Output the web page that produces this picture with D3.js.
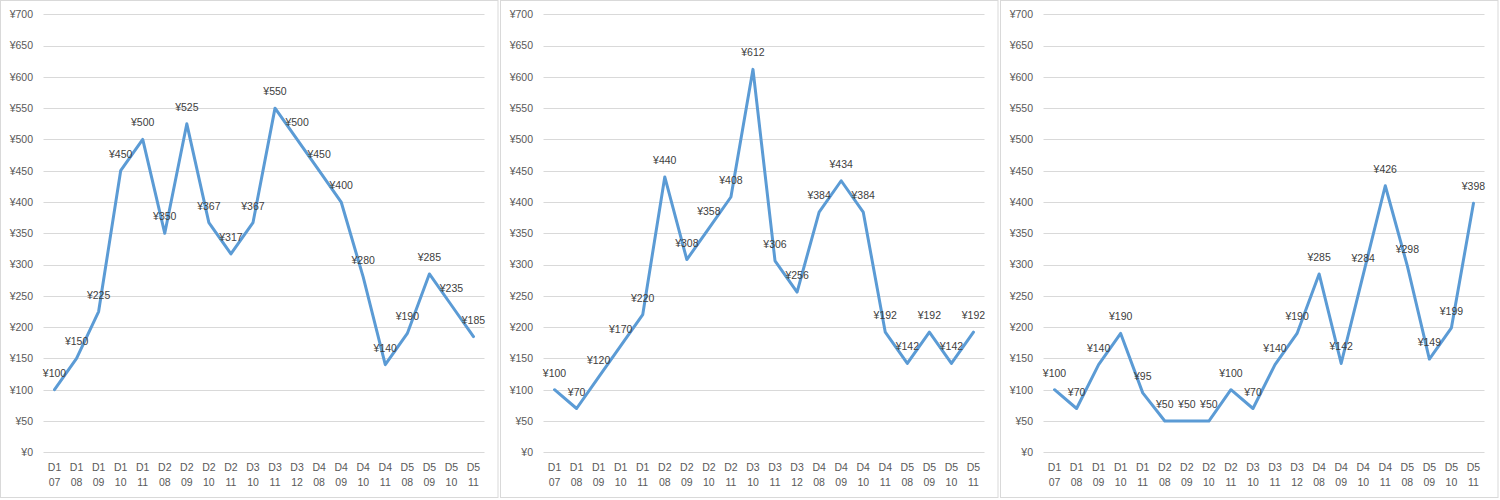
<!DOCTYPE html>
<html>
<head>
<meta charset="utf-8">
<script src="https://cdn.jsdelivr.net/npm/d3@7/dist/d3.min.js"></script>
<style>
  html, body { margin: 0; padding: 0; background: #fff; }
  svg { display: block; }
  text { font-family: "Liberation Sans", Arial, sans-serif; }
</style>
</head>
<body>
<svg id="chart" width="1500" height="500"></svg>
<script>
// ---- data ----
const categories = [
  "D1 07","D1 08","D1 09","D1 10","D1 11",
  "D2 08","D2 09","D2 10","D2 11",
  "D3 10","D3 11","D3 12",
  "D4 08","D4 09","D4 10","D4 11",
  "D5 08","D5 09","D5 10","D5 11"
];
const series1 = [100,150,225,450,500,350,525,367,317,367,550,500,450,400,280,140,190,285,235,185];
const series2 = [100,70,120,170,220,440,308,358,408,612,306,256,384,434,384,192,142,192,142,192];
const series3 = [100,70,140,190,95,50,50,50,100,70,140,190,285,142,284,426,298,149,199,398];
const yTicks = [0,50,100,150,200,250,300,350,400,450,500,550,600,650,700];

const panels = [series1, series2, series3];
const svg = d3.select("#chart");
const fmt = v => "¥" + v;

panels.forEach((values, i) => {
  const ox = i * 500;
  const g = svg.append("g").attr("transform", `translate(${ox},0)`);

  // panel border
  g.append("rect")
    .attr("x", 0.5).attr("y", 0.5)
    .attr("width", 497.5).attr("height", 497)
    .attr("fill", "#fff").attr("stroke", "#d9d9d9").attr("stroke-width", 1);

  const x = d3.scaleBand().domain(categories).range([43.5, 484.5]);
  const y = d3.scaleLinear().domain([0, 700]).range([452.3, 14.3]);

  // gridlines
  g.append("g").selectAll("line").data(yTicks).join("line")
    .attr("x1", 43.5).attr("x2", 484.5)
    .attr("y1", d => Math.round(y(d)) + 0.5).attr("y2", d => Math.round(y(d)) + 0.5)
    .attr("stroke", "#d9d9d9").attr("stroke-width", 1);

  // y axis labels
  const yAxis = d3.axisLeft(y).tickValues(yTicks).tickFormat(fmt).tickSize(0).tickPadding(0);
  const ya = g.append("g").attr("transform", "translate(33,0)").call(yAxis);
  ya.select(".domain").remove();
  ya.selectAll("text").attr("fill", "#595959").style("font-size", "10.5px")
    .style("font-family", '"Liberation Sans", Arial, sans-serif');

  // x axis labels (two lines)
  const xAxis = d3.axisBottom(x).tickSize(0).tickPadding(0).tickFormat("");
  const xa = g.append("g").attr("transform", "translate(0,452)").call(xAxis);
  xa.select(".domain").remove();
  xa.selectAll(".tick").each(function(d) {
    const parts = d.split(" ");
    const t = d3.select(this).select("text")
      .attr("fill", "#595959").attr("y", 0).attr("dy", null)
      .style("font-size", "10.5px")
      .style("font-family", '"Liberation Sans", Arial, sans-serif');
    t.text(null);
    t.append("tspan").attr("x", 0).attr("y", 19).text(parts[0]);
    t.append("tspan").attr("x", 0).attr("y", 34).text(parts[1]);
  });

  // line
  const line = d3.line()
    .x((d, j) => x(categories[j]) + x.bandwidth() / 2)
    .y(d => y(d));
  g.append("path").datum(values)
    .attr("d", line)
    .attr("fill", "none")
    .attr("stroke", "#5b9bd5")
    .attr("stroke-width", 3)
    .attr("stroke-linejoin", "round")
    .attr("stroke-linecap", "round");

  // data labels
  g.append("g").selectAll("text").data(values).join("text")
    .attr("x", (d, j) => x(categories[j]) + x.bandwidth() / 2)
    .attr("y", d => y(d) - 13)
    .attr("text-anchor", "middle")
    .attr("fill", "#404040")
    .style("font-size", "10.5px")
    .text(fmt);
});
</script>
</body>
</html>
